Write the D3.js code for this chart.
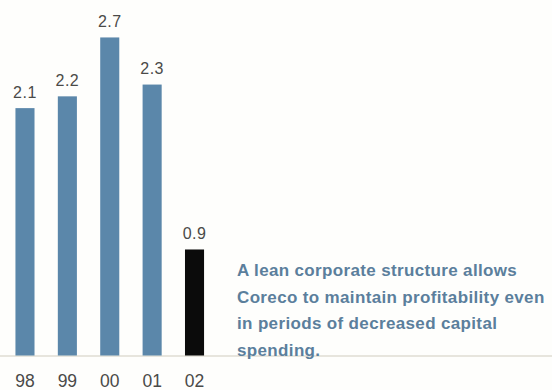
<!DOCTYPE html>
<html>
<head>
<meta charset="utf-8">
<script src="https://cdn.jsdelivr.net/npm/d3@7"></script>
<style>
  html, body { margin: 0; padding: 0; background: #fefefc; }
  svg { display: block; }
</style>
</head>
<body>
<svg id="chart" width="552" height="390"></svg>
<script>
// Capital spending by year
const years = ["98", "99", "00", "01", "02"];
const values = [2.1, 2.2, 2.7, 2.3, 0.9];
const highlightYear = "02";
const noteLines = [
  "A lean corporate structure allows",
  "Coreco to maintain profitability even",
  "in periods of decreased capital",
  "spending."
];

const svg = d3.select("#chart");
const W = 552, H = 390;
const baseY = 355.5;

const x = d3.scaleBand()
  .domain(years)
  .range([4, 215.5])
  .paddingInner(0.55)
  .paddingOuter(0.27);

const y = d3.scaleLinear()
  .domain([0, 3])
  .range([baseY, baseY - 3 * 117.8]);

// baseline rule across the page
svg.append("line")
  .attr("x1", 0).attr("x2", W)
  .attr("y1", baseY + 0.5).attr("y2", baseY + 0.5)
  .attr("stroke", "#cfcbbd").attr("stroke-width", 1.2);

// bars
svg.selectAll("rect.bar")
  .data(years)
  .join("rect")
  .attr("class", "bar")
  .attr("x", d => x(d))
  .attr("width", x.bandwidth())
  .attr("y", (d, i) => y(values[i]))
  .attr("height", (d, i) => y(0) - y(values[i]))
  .attr("fill", d => d === highlightYear ? "#0b0b0b" : "#5b87aa");

// value labels
svg.selectAll("text.val")
  .data(years)
  .join("text")
  .attr("class", "val")
  .attr("x", d => x(d) + x.bandwidth() / 2)
  .attr("y", (d, i) => y(values[i]) - 10.5)
  .attr("text-anchor", "middle")
  .attr("font-family", "Liberation Sans, Arial, sans-serif")
  .attr("font-size", 16)
  .attr("letter-spacing", 0.5)
  .attr("fill", "#4a4a48")
  .text((d, i) => values[i].toFixed(1));

// year labels
const xAxis = d3.axisBottom(x).tickSize(0).tickPadding(0);
const gx = svg.append("g")
  .attr("transform", `translate(0,${baseY})`)
  .call(xAxis);
gx.select(".domain").remove();
gx.selectAll("text")
  .attr("y", 31.5)
  .attr("dy", 0)
  .attr("font-family", "Liberation Sans, Arial, sans-serif")
  .attr("font-size", 17.5)
  .attr("fill", "#4a4a48");

// note text
const note = svg.append("text")
  .attr("font-family", "Liberation Sans, Arial, sans-serif")
  .attr("font-weight", "bold")
  .attr("font-size", 17)
  .attr("letter-spacing", 0.35)
  .attr("fill", "#5b7f9c");
noteLines.forEach((t, i) => {
  note.append("tspan")
    .attr("x", 237)
    .attr("y", 276 + i * 26.5)
    .text(t);
});
</script>
</body>
</html>
